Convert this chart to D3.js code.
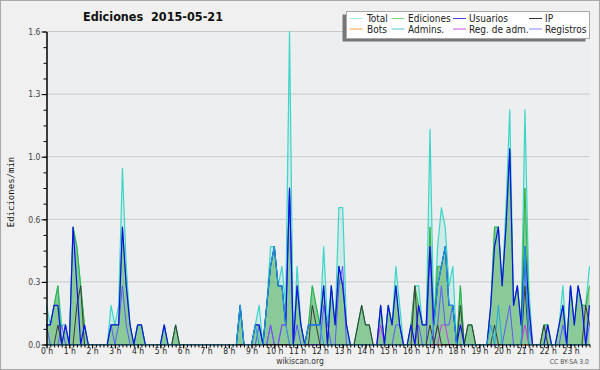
<!DOCTYPE html>
<html><head><meta charset="utf-8">
<script src="https://cdn.jsdelivr.net/npm/d3@7"></script>
<style>
body{margin:0;background:#fff}
svg{display:block}
</style>
</head><body>
<svg id="c" width="600" height="370"></svg>
<script>
// ---------- data (edits per minute, 10-minute bins, one row per hour) ----------
const title = "Ediciones  2015-05-21";
const yLabel = "Ediciones/min";
const hourLabels = ["0 h","1 h","2 h","3 h","4 h","5 h","6 h","7 h","8 h","9 h","10 h","11 h",
                    "12 h","13 h","14 h","15 h","16 h","17 h","18 h","19 h","20 h","21 h","22 h","23 h"];
const hourBins = [0,6,12,18,24,30,36,42,48,54,60,66,72,78,84,90,96,102,108,114,120,126,132,138];
const yTicks = [0,0.32,0.64,0.96,1.28,1.6];
const seriesNames = ["Total","Ediciones","Usuarios","IP","Bots","Admins.","Reg. de adm.","Registros"];

const total = [
 .2,.1,.2,.3,.1,.1,   0,.6,.5,.3,.1,0,   0,0,0,0,0,.2,   .1,.2,.9,.4,.1,0,
 .1,.1,0,0,0,0,       0,.1,0,0,.1,0,     0,0,0,0,0,0,    0,0,0,0,0,0,
 0,0,0,.2,0,0,        0,.1,.2,0,.2,.5,   .5,.3,.4,.2,1.6,0, .4,.1,0,.1,.3,.2,
 .1,.5,.1,.3,.1,.7,   .7,.1,0,0,.1,.2,   .1,.1,0,0,.2,0, .2,.1,.4,.2,0,0,
 .1,.3,.3,.1,.1,1.1,  .1,.5,.7,.6,.3,.4, 0,.3,0,.1,.1,0, 0,0,0,.2,.6,.6,
 .3,.7,1.2,.2,.3,.1,  1.2,.3,0,0,0,.1,   .1,0,0,.1,.3,0, .3,.1,.3,.2,.2,.4
];
const ediciones = [
 .1,.1,.2,.3,0,.1,    0,.6,.5,.3,.1,0,   0,0,0,0,0,.1,   .1,.1,.6,.3,.1,0,
 .1,.1,0,0,0,0,       0,.1,0,0,.1,0,     0,0,0,0,0,0,    0,0,0,0,0,0,
 0,0,0,.2,0,0,        0,.1,.1,0,.2,.4,   .5,.3,.3,.1,.8,0, .3,.1,0,.1,.3,.2,
 .1,.3,0,.3,.1,.4,    .3,.1,0,0,.1,.2,   .1,.1,0,0,.2,0, .2,.1,.3,.1,0,0,
 .1,.3,.2,.1,.1,.6,   .1,.4,.4,.5,.2,.2, 0,.3,0,.1,.1,0, 0,0,0,.2,.6,.6,
 .3,.6,1.0,.2,.3,.1,  .8,.2,0,0,0,.1,    .1,0,0,.1,.2,0, .3,.1,.3,.2,.2,.3
];
const usuarios = [
 .1,.1,.2,.2,0,.1,    0,.6,.3,0,.1,0,    0,0,0,0,0,.1,   .1,.1,.6,.3,.1,0,
 .1,.1,0,0,0,0,       0,.1,0,0,0,0,      0,0,0,0,0,0,    0,0,0,0,0,0,
 0,0,0,.2,0,0,        0,.1,.1,0,.2,.4,   .5,.3,.3,.1,.8,0, .3,.1,0,.1,.1,.1,
 .1,.3,0,.3,.1,.4,    .3,.1,0,0,0,0,     0,0,0,0,.2,0,   .2,.1,.3,.1,0,0,
 .1,0,.2,.1,.1,.5,    .1,.3,.4,.5,.2,.2, 0,.1,0,0,0,0,   0,0,0,.2,.5,.6,
 .3,.6,1.0,.2,.3,.1,  .5,.2,0,0,0,0,     .1,0,0,.1,.2,0, .3,.1,.3,.2,0,.2
];
const ip = [
 0,0,0,.1,0,0,        0,0,.2,.3,0,0,     0,0,0,0,0,0,    0,0,0,0,0,0,
 0,0,0,0,0,0,         0,0,0,0,.1,0,      0,0,0,0,0,0,    0,0,0,0,0,0,
 0,0,0,0,0,0,         0,0,0,0,0,0,       0,0,0,0,0,0,    0,0,0,0,.2,.1,
 0,0,0,0,0,0,         0,0,0,0,.1,.2,     .1,.1,0,0,0,0,  0,0,0,0,0,0,
 0,.3,0,0,0,.1,       0,.1,0,0,0,0,      0,.2,0,.1,.1,0, 0,0,0,0,.1,0,
 0,0,0,0,0,0,         .3,0,0,0,0,.1,     0,0,0,0,0,0,    0,0,0,0,.2,.1
];
const bots = [
 0,0,0,0,0,0, 0,0,0,0,0,0, 0,0,0,0,0,0, 0,0,0,0,0,0,
 0,0,0,0,0,0, 0,0,0,0,0,0, 0,0,0,0,0,0, 0,0,0,0,0,0,
 0,0,0,0,0,0, 0,0,0,0,0,0, 0,0,0,0,0,0, 0,0,0,0,0,0,
 0,0,0,0,0,0, 0,0,0,0,0,0, 0,0,0,0,0,0, 0,0,0,0,0,0,
 0,0,0,0,0,0, 0,0,0,0,0,0, 0,0,0,0,0,0, 0,0,0,0,0,0,
 0,0,0,0,0,0, 0,0,0,0,0,0, 0,0,0,0,0,0, 0,0,0,0,0,0
];
const admins = [
 0,0,0,0,0,0,         0,0,0,0,0,0,       0,0,0,0,0,0,    0,0,0,0,0,0,
 0,0,0,0,0,0,         0,0,0,0,0,0,       0,0,0,0,0,0,    0,0,0,0,0,0,
 0,0,0,.2,0,0,        0,.1,0,0,.2,.4,    .5,.3,.3,.1,0,0, 0,0,0,.1,.1,.1,
 .1,0,0,0,0,0,        0,0,0,0,0,0,       0,0,0,0,0,0,    0,0,0,0,0,0,
 0,0,0,0,0,0,         .1,.3,.4,.5,.2,.2, 0,0,0,0,0,0,    0,0,0,.1,0,.2,
 0,0,0,0,0,0,         .5,0,0,0,0,0,      0,0,0,0,0,0,    0,0,0,0,0,0
];
const regAdm = [
 0,0,0,0,0,0,         0,0,0,0,0,0,       0,0,0,0,0,0,    0,0,0,0,0,0,
 0,0,0,0,0,0,         0,0,0,0,0,0,       0,0,0,0,0,0,    0,0,0,0,0,0,
 0,0,0,0,0,0,         0,0,0,0,0,.1,      0,0,.1,.1,0,0,  0,0,0,0,0,0,
 0,0,0,0,0,0,         0,0,0,0,0,0,       0,0,0,0,.1,0,   0,0,0,0,0,0,
 0,0,0,0,0,0,         0,0,.1,.1,0,0,     0,0,0,0,0,0,    0,0,0,0,0,0,
 0,0,0,0,0,0,         .1,0,0,0,0,0,      0,0,0,0,0,0,    0,0,0,0,0,0
];
const registros = [
 .1,0,0,0,.1,0,       0,0,0,0,0,0,       0,0,0,0,0,.1,   0,.1,.3,.1,0,0,
 0,0,0,0,0,0,         0,0,0,0,0,0,       0,0,0,0,0,0,    0,0,0,0,0,0,
 0,0,0,0,0,0,         0,0,.1,0,0,.1,     0,0,.1,.1,.8,0, .1,0,0,0,0,0,
 0,.2,.1,0,0,.3,      .4,0,0,0,0,0,      0,0,0,0,0,0,    0,0,.1,.1,0,0,
 0,0,.1,0,0,.5,       0,.1,.3,.1,.1,.2,  0,0,0,0,0,0,    0,0,0,0,0,0,
 0,.1,.2,0,0,0,       .4,.1,0,0,0,0,     0,0,0,0,.1,0,   0,0,0,0,0,.1
];

// ---------- drawing ----------
const svg = d3.select("#c");
const fontC = '"DejaVu Sans Condensed","DejaVu Sans",sans-serif';
const x = d3.scaleLinear().domain([0, 143]).range([46.5, 589.5]);
const y = d3.scaleLinear().domain([0, 1.6]).range([344.5, 31.5]);

svg.append("rect").attr("x",0.5).attr("y",0.5).attr("width",599).attr("height",369)
   .attr("fill","#f0f0f0").attr("stroke","#a8a8a8");
svg.append("rect").attr("x",x(0)).attr("y",y(1.6)).attr("width",x(143)-x(0)).attr("height",y(0)-y(1.6))
   .attr("fill","#eceef0");

// grid
svg.append("g").selectAll("line").data(yTicks.filter(d=>d>0)).join("line")
   .attr("x1",x(0)).attr("x2",x(143)).attr("y1",d=>y(d)).attr("y2",d=>y(d))
   .attr("stroke","#c9c9cb").attr("stroke-width",1);

const area = d3.area().x((d,i)=>x(i)).y0(y(0)).y1(d=>y(d));
const line = d3.line().x((d,i)=>x(i)).y(d=>y(d));

svg.append("path").datum(total).attr("d",area).attr("fill","rgba(64,214,200,0.16)");
svg.append("path").datum(ediciones).attr("d",area).attr("fill","rgba(40,160,40,0.42)");

const lines = [
  {data: total,     color:"#3cd6c6", w:1.2},
  {data: ediciones, color:"#33b033", w:1},
  {data: bots,      color:"#ff9a30", w:1},
  {data: regAdm,    color:"#c83ae6", w:1},
  {data: registros, color:"#5a5aff", w:1},
  {data: ip,        color:"#3a3a3a", w:1},
  {data: usuarios,  color:"#1010e8", w:1.2},
  {data: admins,    color:"#1ea8dc", w:1}
];
lines.forEach(s=>{
  svg.append("path").datum(s.data).attr("d",line).attr("fill","none")
     .attr("stroke",s.color).attr("stroke-width",s.w).attr("stroke-linejoin","round");
});

// y axis
const yMinor = d3.range(0, 21).map(i=>i*0.08);
const gyMinor = svg.append("g").attr("transform",`translate(${x(0)},0)`)
   .call(d3.axisLeft(y).tickValues(yMinor).tickSize(3).tickSizeOuter(0).tickFormat(""));
const gy = svg.append("g").attr("transform",`translate(${x(0)},0)`)
   .call(d3.axisLeft(y).tickValues(yTicks).tickSize(5).tickSizeOuter(0).tickPadding(1).tickFormat(d3.format(".1f")));
[gyMinor, gy].forEach(g=>{ g.selectAll("line,path").attr("stroke","#000"); });
gy.selectAll("text").attr("font-family",fontC).attr("font-size",8.5).attr("fill","#444");

// x axis
const gxMinor = svg.append("g").attr("transform",`translate(0,${y(0)})`)
   .call(d3.axisBottom(x).tickValues(d3.range(0,144)).tickSize(3).tickSizeOuter(0).tickFormat(""));
const gx = svg.append("g").attr("transform",`translate(0,${y(0)})`)
   .call(d3.axisBottom(x).tickValues(hourBins).tickSize(4).tickSizeOuter(0)
         .tickFormat((d,i)=>hourLabels[i]));
[gxMinor, gx].forEach(g=>{ g.selectAll("line,path").attr("stroke","#000"); });
gx.select(".domain").remove();
gx.selectAll("text").attr("font-family",fontC).attr("font-size",8.5).attr("fill","#222")
  .attr("y",3).attr("dy","0.71em");

// labels
svg.append("text").attr("x",153).attr("y",21).attr("text-anchor","middle")
   .attr("font-family",fontC).attr("font-weight","bold").attr("font-size",12.5).attr("fill","#111")
   .style("white-space","pre").attr("xml:space","preserve")
   .text(title);
svg.append("text").attr("transform","translate(14,192) rotate(-90)").attr("text-anchor","middle")
   .attr("font-family","'DejaVu Sans Mono',monospace").attr("font-size",9).attr("fill","#111")
   .text(yLabel);
svg.append("text").attr("x",300).attr("y",364).attr("text-anchor","middle")
   .attr("font-family",fontC).attr("font-size",8.5).attr("fill","#333").text("wikiscan.org");
svg.append("text").attr("x",589).attr("y",364).attr("text-anchor","end")
   .attr("font-family",fontC).attr("font-size",6.8).attr("fill","#555").text("CC BY-SA 3.0");

// legend
const legColors = ["#a6e6e2","#86d286","#4646e0","#333333","#f5a040","#4cc4e0","#d24ee0","#8686f6"];
const colX = [349.5, 391.5, 453, 529];
const textX = [367, 408, 469, 545];
const rowY = [18.5, 29];
const leg = svg.append("g");
leg.append("rect").attr("x",342.5).attr("y",14.5).attr("width",243).attr("height",27).attr("fill","#777");
leg.append("rect").attr("x",346.5).attr("y",11.5).attr("width",243).attr("height",27)
   .attr("fill","#fff").attr("stroke","#a8a8a8");
seriesNames.forEach((n,i)=>{
  const c = i%4, r = Math.floor(i/4);
  leg.append("line").attr("x1",colX[c]).attr("x2",colX[c]+13).attr("y1",rowY[r]).attr("y2",rowY[r])
     .attr("stroke",legColors[i]).attr("stroke-width",1);
  leg.append("text").attr("x",textX[c]).attr("y",rowY[r]+3.6).attr("font-family",fontC)
     .attr("font-size",10).attr("fill","#222").text(n);
});
</script>
</body></html>
